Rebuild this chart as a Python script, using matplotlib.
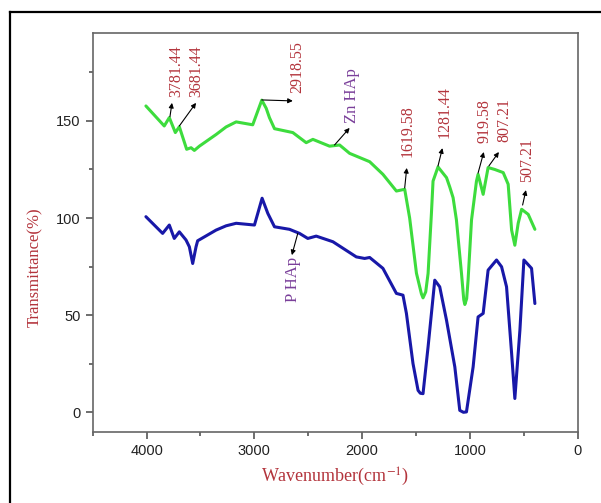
import matplotlib
matplotlib.use('Agg')
import matplotlib.pyplot as plt
from matplotlib.lines import Line2D
from matplotlib.ticker import MultipleLocator

plt.rcParams['mathtext.fontset'] = 'stix'

# Zn HAp spectrum (green)
zn_wn = [4006, 3836, 3789, 3733, 3696, 3628, 3587, 3557, 3510, 3355, 3262, 3169,
         3015, 2931, 2890, 2860, 2813, 2643, 2519, 2457, 2302, 2209, 2116, 1930,
         1807, 1682, 1605, 1559, 1496, 1450, 1435, 1410, 1388, 1357, 1342, 1296, 1217, 1187,
         1156, 1125, 1078, 1057, 1047, 1030, 1017, 985, 939, 924, 877, 831, 769, 691, 645,
         613, 583, 552, 520, 459, 397]
zn_t = [157.7, 147.4, 151.7, 144.0, 147.0, 135.4, 136.2, 134.8, 137.0, 143.0, 146.9, 149.5,
        148.0, 160.7, 156.5, 151.7, 146.0, 144.0, 138.8, 140.5, 137.0, 137.6, 133.3, 129.0,
        122.5, 113.9, 114.8, 100.0, 71.6, 61.0, 58.9, 62.0, 71.5, 102.4, 119.0, 126.3, 120.8, 116.0,
        110.5, 99.0, 71.5, 58.0, 55.5, 58.5, 68.0, 99.0, 119.0, 122.5, 112.2, 126.0, 125.0, 123.4, 117.4,
        93.8, 86.0, 97.3, 104.5, 101.9, 94.2]

# P HAp spectrum (blue)
p_wn = [4006, 3851, 3789, 3743, 3696, 3634, 3603, 3572, 3541, 3526, 3355, 3262,
        3169, 2999, 2928, 2875, 2813, 2674, 2581, 2504, 2426, 2271, 2054, 1977,
        1930, 1807, 1682, 1621, 1589, 1528, 1481, 1460, 1435, 1388, 1326, 1280, 1217,
        1140, 1094, 1060, 1032, 970, 924, 877, 831, 753, 706, 660, 613, 583, 536, 499,
        428, 397]
p_t = [100.7, 92.1, 96.4, 89.5, 92.9, 88.7, 85.2, 76.6, 85.2, 88.3, 93.8, 96.0,
       97.3, 96.4, 110.2, 102.4, 95.5, 94.2, 92.1, 89.5, 90.7, 87.8, 80.0, 79.2,
       79.7, 74.1, 61.2, 60.3, 50.9, 25.1, 11.3, 9.8, 9.6, 33.7, 68.0, 64.6, 47.4,
       23.4, 1.0, 0.0, 0.2, 23.4, 49.1, 50.9, 73.2, 78.4, 74.9, 64.6, 30.3, 7.1, 42.3, 78.4,
       74.1, 56.0]

# peak labels: text, arrow tail, arrow head, text anchor
peak_labels = ['3781.44', '3681.44', '2918.55', '1619.58', '1281.44',
               '919.58', '807.21', '507.21']
peak_tail = [(3783, 152.2), (3696, 147.4), (2931, 160.8), (1605, 115.5),
             (1296, 126.8), (924, 123.2), (824, 126.8), (511, 106.7)]
peak_head = [(3764, 159.3), (3541, 159.3), (2643, 160.3), (1586, 125.8),
             (1255, 136.0), (871, 134.0), (731, 134.0), (480, 114.4)]
peak_text = [(3727, 162.4), (3541, 162.4), (2600, 164.4), (1577, 131.6),
             (1233, 141.2), (862, 138.7), (676, 139.2), (471, 118.6)]

red = '#b3343c'
purple = '#7a3f9a'
arrow = dict(arrowstyle='-|>', color='black', lw=0.8, mutation_scale=7,
             shrinkA=0, shrinkB=0)

fig = plt.figure(figsize=(6.01, 5.03), dpi=100)
ax = fig.add_axes([0.1542, 0.1417, 0.807, 0.7917])

ax.plot(zn_wn, zn_t, color='#3ddc3d', lw=2.2, solid_joinstyle='round', solid_capstyle='round')
ax.plot(p_wn, p_t, color='#1818a8', lw=2.2, solid_joinstyle='round', solid_capstyle='round')

for lab, tail, head, pos in zip(peak_labels, peak_tail, peak_head, peak_text):
    ax.annotate('', xy=head, xytext=tail, arrowprops=arrow)
    ax.text(pos[0], pos[1], lab, rotation=90, ha='center', va='bottom',
            color=red, fontsize=11.5, family='Liberation Serif')

ax.annotate('', xy=(2116, 146.4), xytext=(2256, 137.6), arrowprops=arrow)
ax.text(2098, 149, 'Zn HAp', rotation=90, ha='center', va='bottom',
        color=purple, fontsize=12, family='Liberation Serif')
ax.annotate('', xy=(2652, 80.9), xytext=(2597, 92.1), arrowprops=arrow)
ax.text(2645, 80, 'P HAp', rotation=90, ha='center', va='top',
        color=purple, fontsize=12, family='Liberation Serif')

ax.set_xlim(4500, 0)
ax.set_ylim(-10, 195)
ax.xaxis.set_major_locator(MultipleLocator(1000))
ax.xaxis.set_minor_locator(MultipleLocator(500))
ax.yaxis.set_major_locator(MultipleLocator(50))
ax.yaxis.set_minor_locator(MultipleLocator(25))

for s in ax.spines.values():
    s.set_color('#666666')
    s.set_linewidth(1.2)
ax.tick_params(which='both', direction='out', colors='#555555', top=False, right=False)
ax.tick_params(which='major', length=5, width=1.2, labelsize=10.5, labelcolor='#222222')
ax.tick_params(which='minor', length=3, width=1.2)
for t in ax.get_xticklabels() + ax.get_yticklabels():
    t.set_family('Liberation Sans')

ax.set_xlabel(r'Wavenumber(cm$^{-1}$)', color=red, fontsize=13, family='Liberation Serif')
ax.set_ylabel('Transmittance(%)', color=red, fontsize=12, family='Liberation Serif')
ax.xaxis.set_label_coords(0.5, -0.086)
ax.yaxis.set_label_coords(-0.102, 0.414)

# outer frame, only left and top edges show
fy = 1 - 12 / 503
fx = 10 / 601
fig.add_artist(Line2D([fx, fx], [0, fy], color='black', lw=1.6, transform=fig.transFigure))
fig.add_artist(Line2D([fx, 1], [fy, fy], color='black', lw=1.6, transform=fig.transFigure))

fig.savefig('out.png', dpi=100)
